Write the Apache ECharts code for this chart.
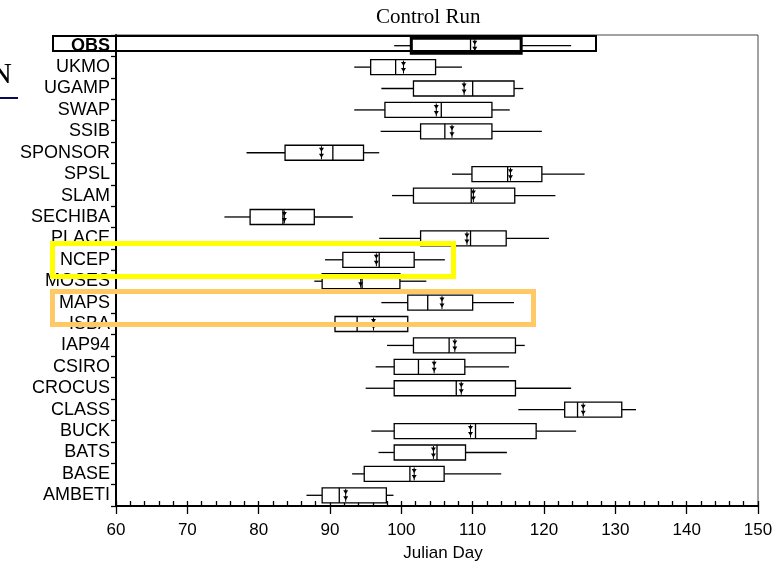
<!DOCTYPE html>
<html><head><meta charset="utf-8">
<script src="https://cdn.jsdelivr.net/npm/echarts@6/dist/echarts.min.js"></script>
<style>html,body{margin:0;padding:0;background:#fff}#c{width:780px;height:569px}</style>
</head><body><div id="c"></div>
<script>
const categories = ['OBS','UKMO','UGAMP','SWAP','SSIB','SPONSOR','SPSL','SLAM','SECHIBA','PLACE','NCEP','MOSES','MAPS','ISBA','IAP94','CSIRO','CROCUS','CLASS','BUCK','BATS','BASE','AMBETI'];
const whiskerLow  = [99.0, 93.4, 97.2, 93.4, 97.1, 78.3, 107.1, 98.7, 75.2, 96.9, 89.3, 87.8, 97.2, 90.7, 98.0, 96.4, 95.0, 116.4, 95.8, 96.8, 93.1, 86.7];
const boxLow      = [101.4, 95.7, 101.7, 97.7, 102.7, 83.7, 109.9, 101.7, 78.8, 102.7, 91.8, 88.9, 100.9, 90.7, 101.7, 99.0, 99.0, 122.9, 99.0, 99.0, 94.8, 88.9];
const medians     = [109.7, 99.2, 110.0, 105.6, 106.1, 90.4, 114.9, 109.8, 83.4, 109.7, 96.9, 94.5, 103.7, 93.8, 106.7, 102.4, 107.7, 124.7, 110.4, 105.0, 101.2, 91.3];
const boxHigh     = [116.8, 104.8, 115.8, 112.7, 112.7, 94.7, 119.7, 115.9, 87.8, 114.7, 101.8, 99.8, 110.0, 100.9, 116.0, 108.9, 116.0, 130.9, 118.9, 109.0, 106.0, 97.9];
const whiskerHigh = [123.8, 108.5, 117.1, 115.2, 119.7, 96.9, 125.7, 121.6, 93.2, 120.7, 106.1, 103.5, 115.8, 100.9, 117.3, 115.1, 123.8, 132.9, 124.5, 114.8, 114.0, 98.9];
const means       = [110.3, 100.3, 108.8, 104.9, 107.1, 88.8, 115.3, 110.1, 83.6, 109.2, 96.5, 94.3, 105.7, 96.1, 107.5, 104.6, 108.4, 125.5, 109.7, 104.5, 101.8, 92.2];
const xTickLabels = ['60','70','80','90','100','110','120','130','140','150'];

const data = categories.map((c, i) => [i, whiskerLow[i], boxLow[i], medians[i], boxHigh[i], whiskerHigh[i], means[i]]);

function renderItem(params, api) {
  const ci = api.value(0);
  const c = v => api.coord([v, ci]);
  const pWl = c(api.value(1)), pQ1 = c(api.value(2)), pMed = c(api.value(3)),
        pQ3 = c(api.value(4)), pWh = c(api.value(5)), pMean = c(api.value(6));
  const y = pQ1[1];
  const h = 15;
  const bold = ci === 0;
  const lw = bold ? 3 : 1.3;
  const line = (x1, x2, y1, y2, w) => ({type: 'line', shape: {x1, y1, x2, y2}, style: {stroke: '#000', lineWidth: w}});
  const mx = pMean[0];
  return {
    type: 'group',
    children: [
      line(pWl[0], pQ1[0], y, y, 1.3),
      line(pQ3[0], pWh[0], y, y, 1.3),
      {type: 'rect', shape: {x: pQ1[0], y: y - h / 2, width: pQ3[0] - pQ1[0], height: h},
       style: {stroke: '#000', lineWidth: lw, fill: '#fff'}},
      line(pMed[0], pMed[0], y - h / 2, y + h / 2, 1.3),
      line(mx, mx, y - h / 2 + 1, y + h / 2 - 1, 1),
      {type: 'polygon', shape: {points: [[mx - 2.5, y - 5], [mx + 2.5, y - 5], [mx, y - 1]]}, style: {fill: '#000'}},
      {type: 'polygon', shape: {points: [[mx - 2.5, y + 1], [mx + 2.5, y + 1], [mx, y + 5]]}, style: {fill: '#000'}}
    ]
  };
}

const chart = echarts.init(document.getElementById('c'), null, {renderer: 'canvas'});
chart.setOption({
  animation: false,
  backgroundColor: '#fff',
  grid: {left: 116, right: 22, top: 35, bottom: 63, show: true, borderColor: '#444', borderWidth: 1, backgroundColor: 'transparent'},
  xAxis: [{
    type: 'value', min: 60, max: 150, interval: 10,
    axisLine: {show: true, lineStyle: {color: '#000', width: 2}},
    axisTick: {show: true, length: 8, lineStyle: {color: '#000', width: 1.3}},
    axisLabel: {fontSize: 17, color: '#000', fontFamily: 'Liberation Sans', margin: 16,
      formatter: (v) => xTickLabels[Math.round((v - 60) / 10)] || ''},
    splitLine: {show: false}
  }, {
    type: 'value', min: 60, max: 150, interval: 2, position: 'bottom',
    axisLine: {show: false},
    axisTick: {show: true, inside: true, length: 5, lineStyle: {color: '#000', width: 1.3}},
    axisLabel: {show: false},
    splitLine: {show: false}
  }],
  yAxis: {
    type: 'category', inverse: true, data: categories,
    axisLine: {show: true, lineStyle: {color: '#000', width: 2}},
    axisTick: {show: true, length: 5, interval: 0, lineStyle: {color: '#000', width: 1.3}},
    axisLabel: {interval: 0, fontSize: 18, color: '#000', fontFamily: 'Liberation Sans', margin: 6,
      formatter: (v) => v === 'OBS' ? '{b|OBS}' : v,
      rich: {b: {fontSize: 18, fontWeight: 'bold', color: '#000', fontFamily: 'Liberation Sans'}}},
    splitLine: {show: false}
  },
  series: [{
    type: 'custom',
    renderItem: renderItem,
    encode: {x: [1, 2, 3, 4, 5, 6], y: 0},
    data: data,
    z: 3
  }],
  graphic: [
    {type: 'text', left: 428 - 52, top: 7, style: {text: 'Control Run', fontSize: 21, fontFamily: 'Liberation Serif', fill: '#000'}},
    {type: 'text', x: 443, y: 553, style: {text: 'Julian Day', fontSize: 17, fontFamily: 'Liberation Sans', fill: '#000', align: 'center', verticalAlign: 'middle'}},
    {type: 'rect', shape: {x: 53, y: 36, width: 543, height: 15}, style: {fill: 'none', stroke: '#000', lineWidth: 2}, z: 10},
    {type: 'rect', shape: {x: 52.5, y: 243.5, width: 401, height: 33}, style: {fill: 'none', stroke: '#FFFF00', lineWidth: 5}, z: 10},
    {type: 'rect', shape: {x: 52.5, y: 291.5, width: 481, height: 33}, style: {fill: 'none', stroke: '#FFC966', lineWidth: 5}, z: 10},
    {type: 'text', x: 12, y: 75, style: {text: 'N', fontSize: 30, fontFamily: 'Liberation Serif', fill: '#000', align: 'right', verticalAlign: 'middle'}},
    {type: 'line', shape: {x1: 0, y1: 98, x2: 18, y2: 98}, style: {stroke: '#0a0a5a', lineWidth: 2}}
  ]
});
</script>
</body></html>
